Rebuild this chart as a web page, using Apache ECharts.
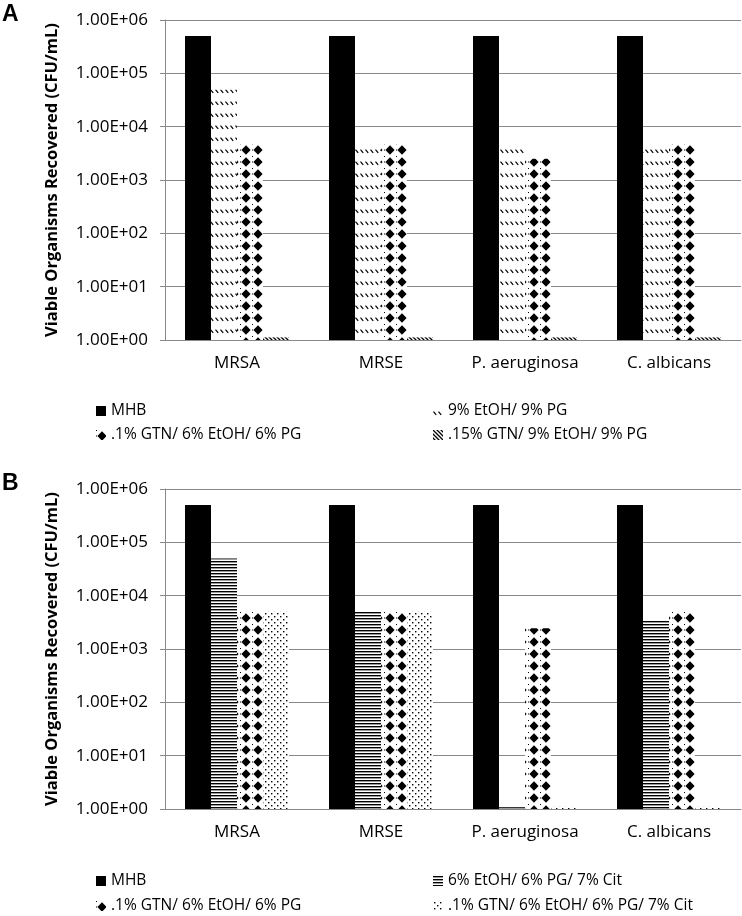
<!DOCTYPE html>
<html><head><meta charset="utf-8">
<script src="https://cdn.jsdelivr.net/npm/echarts@6/dist/echarts.min.js"></script>
<style>html,body{margin:0;padding:0;background:#fff}#c{width:742px;height:916px}</style>
</head><body><div id="c"></div>
<script>
const categories = ['MRSA', 'MRSE', 'P. aeruginosa', 'C. albicans'];
const tickLabels = ['1.00E+00', '1.00E+01', '1.00E+02', '1.00E+03', '1.00E+04', '1.00E+05', '1.00E+06'];
const axisTitle = 'Viable Organisms Recovered (CFU/mL)';
const panelLabels = ['A', 'B'];

const namesA = ['MHB', '9% EtOH/ 9% PG', '.1% GTN/ 6% EtOH/ 6% PG', '.15% GTN/ 9% EtOH/ 9% PG'];
const mhbA = [5e5, 5e5, 5e5, 5e5];
const etohPgA = [5e4, 4.2e3, 4.2e3, 4.2e3];
const gtnA = [4.6e3, 4.6e3, 2.5e3, 4.6e3];
const gtn15A = [1.12, 1.12, 1.12, 1.12];

const namesB = ['MHB', '6% EtOH/ 6% PG/ 7% Cit', '.1% GTN/ 6% EtOH/ 6% PG', '.1% GTN/ 6% EtOH/ 6% PG/ 7% Cit'];
const mhbB = [5e5, 5e5, 5e5, 5e5];
const citB = [5e4, 5e3, 1.08, 3.35e3];
const gtnB = [5e3, 5e3, 2.45e3, 5e3];
const gtnCitB = [5e3, 5e3, 1.1, 1.1];

function pat(w, h, draw) {
  const c = document.createElement('canvas');
  c.width = w; c.height = h;
  const g = c.getContext('2d');
  g.fillStyle = '#fff'; g.fillRect(0, 0, w, h);
  g.fillStyle = '#000'; g.strokeStyle = '#000';
  draw(g);
  return { image: c, repeat: 'repeat' };
}
const pSolid = '#000';
const pHatch = pat(5, 12, g => {
  g.lineWidth = 1.2; g.beginPath(); g.moveTo(0.5, 5.6); g.lineTo(3.2, 8.9); g.stroke();
});
const pDiamond = pat(12, 12, g => {
  g.beginPath(); g.moveTo(6, 1.3); g.lineTo(10.6, 6); g.lineTo(6, 10.7); g.lineTo(1.4, 6); g.closePath(); g.fill();
  g.fillRect(0, 5.5, 1, 1); g.fillRect(0, 0, 1, 1);
});
const pWide = pat(4, 4, g => {
  g.lineWidth = 1.3; g.beginPath();
  g.moveTo(-1, -1); g.lineTo(5, 5); g.moveTo(-1, 3); g.lineTo(1, 5); g.moveTo(3, -1); g.lineTo(5, 1); g.stroke();
});
const pHoriz = pat(2, 3, g => {
  g.fillStyle = '#000'; g.fillRect(0, 0, 2, 1);
  g.fillStyle = '#9a9a9a'; g.fillRect(0, 1, 2, 1);
});
const pDots = pat(6, 6, g => {
  g.fillRect(1, 1, 1.4, 1.4); g.fillRect(4, 4, 1.4, 1.4);
});

const font = 'Open Sans';
const gridCol = '#898989';

function xAx(i) {
  return {
    type: 'category', gridIndex: i, data: categories,
    axisLine: { lineStyle: { color: gridCol, width: 1 } },
    axisTick: { show: false },
    axisLabel: { margin: 15, fontSize: 17, color: '#000', fontFamily: font }
  };
}
function yAx(i) {
  return {
    type: 'log', logBase: 10, gridIndex: i, min: 1, max: 1e6, interval: 1,
    axisLine: { show: true, lineStyle: { color: gridCol, width: 1 } },
    axisTick: { show: true, length: 5, lineStyle: { color: gridCol } },
    splitLine: { show: true, lineStyle: { color: gridCol, width: 1 } },
    axisLabel: { margin: 17, fontSize: 17, color: '#000', fontFamily: font,
      formatter: v => tickLabels[Math.round(Math.log10(v))] },
    name: axisTitle, nameLocation: 'middle', nameRotate: 90, nameGap: 104,
    nameTextStyle: { fontSize: 16.5, fontWeight: 'bold', color: '#000', fontFamily: font }
  };
}
function bar(name, data, color, i) {
  return { type: 'bar', name, data, xAxisIndex: i, yAxisIndex: i, barWidth: 26, barGap: '0%',
    itemStyle: { color }, emphasis: { disabled: true }, animation: false };
}
function leg(name, left, top) {
  return { data: [name], left, top, padding: 0, icon: 'rect', itemWidth: 10, itemHeight: 10,
    selectedMode: false, itemGap: 0,
    textStyle: { fontSize: 15.5, color: '#000', fontFamily: font, lineHeight: 20 } };
}

const chart = echarts.init(document.getElementById('c'), null, { renderer: 'canvas' });
chart.setOption({
  animation: false,
  backgroundColor: '#fff',
  grid: [
    { left: 165, top: 20, width: 576, height: 320 },
    { left: 165, top: 489, width: 576, height: 320 }
  ],
  xAxis: [xAx(0), xAx(1)],
  yAxis: [yAx(0), yAx(1)],
  series: [
    bar(namesA[0], mhbA, pSolid, 0),
    bar(namesA[1], etohPgA, pHatch, 0),
    bar(namesA[2], gtnA, pDiamond, 0),
    bar(namesA[3], gtn15A, pWide, 0),
    bar(namesB[0], mhbB, pSolid, 1),
    bar(namesB[1], citB, pHoriz, 1),
    bar(namesB[2], gtnB, pDiamond, 1),
    bar(namesB[3], gtnCitB, pDots, 1)
  ],
  legend: [
    leg(namesA[0], 96, 401), leg(namesA[1], 433, 401),
    leg(namesA[2], 96, 425), leg(namesA[3], 433, 425),
    leg(namesB[0], 96, 871), leg(namesB[1], 433, 871),
    leg(namesB[2], 96, 896), leg(namesB[3], 433, 896)
  ],
  graphic: [
    { type: 'text', left: 2, top: 3, style: { text: panelLabels[0], fontSize: 23, fontWeight: 'bold', fontFamily: 'Liberation Sans', fill: '#000' } },
    { type: 'text', left: 2, top: 472, style: { text: panelLabels[1], fontSize: 23, fontWeight: 'bold', fontFamily: 'Liberation Sans', fill: '#000' } }
  ]
});
</script></body></html>
